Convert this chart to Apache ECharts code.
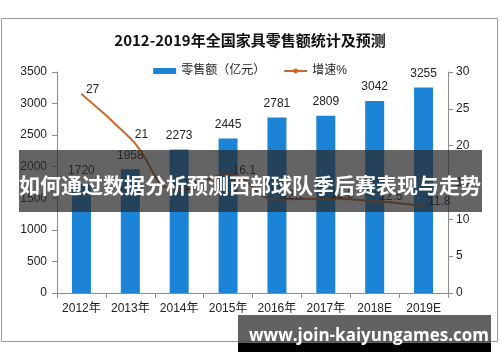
<!DOCTYPE html>
<html>
<head>
<meta charset="utf-8">
<script src="https://cdn.jsdelivr.net/npm/echarts@6/dist/echarts.min.js"></script>
<style>
html,body{margin:0;padding:0;background:#fff;}
#c{width:500px;height:362px;}
</style>
</head>
<body>
<div id="c"></div>
<script>
var categories = ['2012年','2013年','2014年','2015年','2016年','2017年','2018E','2019E'];
var salesValues = [1720, 1958, 2273, 2445, 2781, 2809, 3042, 3255];
var growthValues = [27, 21, 13.9, 16.1, 12.7, 12.8, 12.5, 11.8];
var leftTicks = {min: 0, max: 3500, interval: 500};
var rightTicks = {min: 0, max: 30, interval: 5};

var chart = echarts.init(document.getElementById('c'), null, {renderer: 'canvas'});
var cjk = '"Liberation Sans","Noto Sans CJK SC",sans-serif';
var axisColor = '#8c8c8c';
chart.setOption({
  animation: false,
  backgroundColor: '#fff',
  title: {
    text: '2012-2019年全国家具零售额统计及预测',
    left: 'center', top: 28,
    textStyle: {fontFamily: '"Noto Sans CJK SC",sans-serif', fontSize: 15, fontWeight: 'bold', color: '#111'}
  },
  legend: {
    top: 60, left: 'center', itemGap: 18,
    itemWidth: 23, itemHeight: 6,
    textStyle: {fontFamily: cjk, fontSize: 12, color: '#222'},
    data: [{name: '零售额（亿元）', icon: 'rect'}, {name: '增速%'}]
  },
  grid: {left: 57, right: 52, top: 72, bottom: 69},
  xAxis: {
    type: 'category', data: categories,
    axisLine: {lineStyle: {color: axisColor}},
    axisTick: {show: true, alignWithLabel: false, lineStyle: {color: axisColor}},
    axisLabel: {interval: 0, fontFamily: cjk, fontSize: 12, color: '#222', margin: 10}
  },
  yAxis: [{
    type: 'value', min: leftTicks.min, max: leftTicks.max, interval: leftTicks.interval,
    axisLine: {show: true, lineStyle: {color: axisColor}},
    axisTick: {show: true, lineStyle: {color: axisColor}},
    splitLine: {show: false},
    axisLabel: {formatter: function (v) { return String(v); }, fontFamily: cjk, fontSize: 12, color: '#222', margin: 10}
  }, {
    type: 'value', min: rightTicks.min, max: rightTicks.max, interval: rightTicks.interval,
    position: 'right',
    axisLine: {show: true, lineStyle: {color: axisColor}},
    axisTick: {show: true, lineStyle: {color: axisColor}},
    splitLine: {show: false},
    axisLabel: {formatter: function (v) { return String(v); }, fontFamily: cjk, fontSize: 12, color: '#222', margin: 8}
  }],
  series: [{
    name: '零售额（亿元）', type: 'bar', data: salesValues, barWidth: 19,
    itemStyle: {color: '#1c84d6'},
    label: {show: true, position: 'top', distance: 8, fontFamily: cjk, fontSize: 12, color: '#222'}
  }, {
    name: '增速%', type: 'line', yAxisIndex: 1, data: growthValues,
    smooth: true, symbol: 'circle', symbolSize: 1, showSymbol: true,
    lineStyle: {color: '#c8692a', width: 2},
    itemStyle: {color: '#c8692a'},
    label: {show: true, position: 'right', distance: 4, offset: [0, -4], fontFamily: cjk, fontSize: 12, color: '#222'}
  }],
  graphic: [
    {type: 'rect', shape: {x: 1.5, y: 18.5, width: 496, height: 323}, style: {fill: 'none', stroke: '#999', lineWidth: 1}, z: 1},
    {type: 'rect', shape: {x: 19, y: 150, width: 463, height: 62}, style: {fill: 'rgba(40,40,40,0.72)'}, z: 100},
    {type: 'text', x: 250, y: 185, style: {text: '如何通过数据分析预测西部球队季后赛表现与走势', fill: '#fff', fontSize: 21, fontWeight: 'bold', fontFamily: '"Noto Sans CJK SC",sans-serif', align: 'center', verticalAlign: 'middle'}, z: 101},
    {type: 'rect', shape: {x: 238, y: 315, width: 253, height: 28}, style: {fill: 'rgba(70,70,70,0.85)'}, z: 100},
    {type: 'rect', shape: {x: 238, y: 343, width: 253, height: 9}, style: {fill: '#000'}, z: 100},
    {type: 'text', x: 369, y: 336, style: {text: 'www.join-kaiyungames.com', fill: '#fff', fontSize: 17, fontWeight: 'bold', fontFamily: '"Open Sans","DejaVu Sans",sans-serif', align: 'center', verticalAlign: 'middle'}, z: 101}
  ]
});
</script>
</body>
</html>
